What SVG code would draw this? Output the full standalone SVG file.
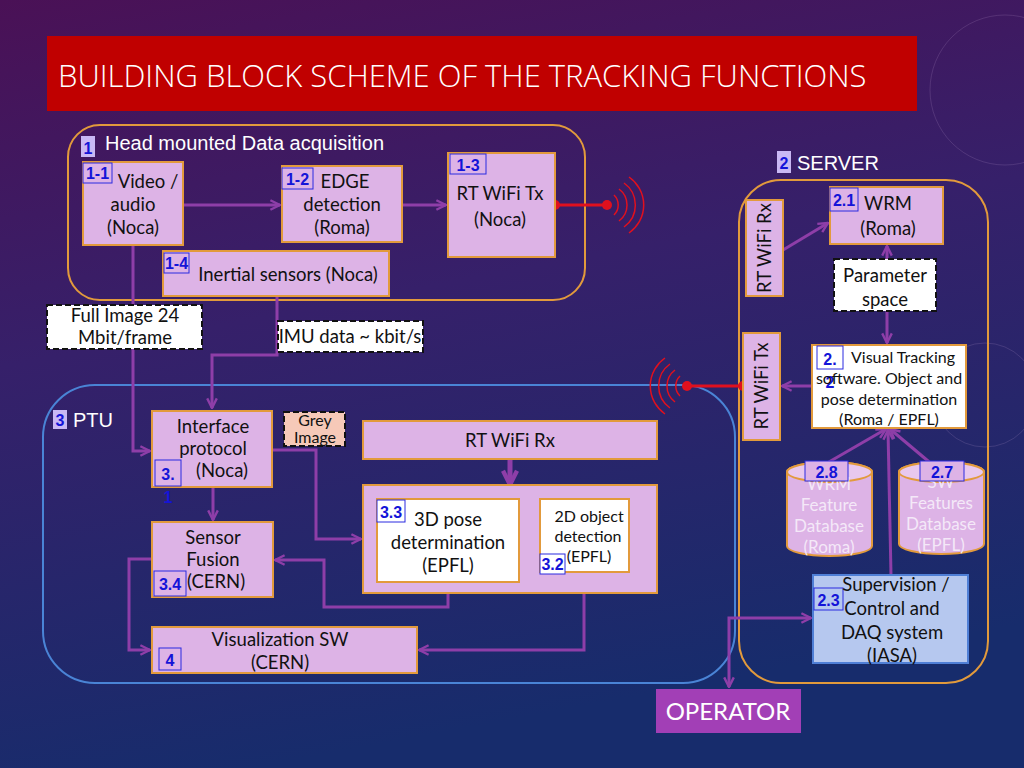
<svg xmlns="http://www.w3.org/2000/svg" width="1024" height="768" viewBox="0 0 1024 768">
<defs>
<linearGradient id="bg" x1="0" y1="0" x2="0.25" y2="1">
<stop offset="0" stop-color="#4a1156"/>
<stop offset="0.45" stop-color="#36206a"/>
<stop offset="1" stop-color="#172c6c"/>
</linearGradient>
<marker id="ah" viewBox="0 0 10 10" refX="9" refY="5" markerWidth="4" markerHeight="4" orient="auto-start-reverse" markerUnits="strokeWidth">
<path d="M1,1 L9,5 L1,9" fill="none" stroke="#8e3ea8" stroke-width="2"/>
</marker>
<marker id="ahb" viewBox="0 0 10 10" refX="8" refY="5" markerWidth="3.5" markerHeight="3.5" orient="auto-start-reverse" markerUnits="strokeWidth">
<path d="M1,1 L9,5 L1,9" fill="none" stroke="#8e3ea8" stroke-width="2.5"/>
</marker>
<style>
.node{fill:#ddb3e6;stroke:#e29a3c;stroke-width:2}
.wnode{fill:#ffffff;stroke:#e29a3c;stroke-width:2}
.t{font-family:Lato,"Open Sans",sans-serif;font-size:18.5px;fill:#111;text-anchor:middle}
.ts{font-family:Lato,"Open Sans",sans-serif;font-size:16px;fill:#111;text-anchor:middle}
.wt{font-family:Lato,"Open Sans",sans-serif;font-size:17px;fill:#f4e8f8;text-anchor:middle}
.tag{fill:#ddb3e6;stroke:#2a2ae0;stroke-width:1}
.tagw{fill:#ffffff;stroke:#2a2ae0;stroke-width:1}
.tt{font-family:"Liberation Sans",Arial,sans-serif;font-size:16px;font-weight:bold;fill:#1414d8;text-anchor:middle}
.gl{font-family:"Liberation Sans",Arial,sans-serif;font-size:20px;fill:#ffffff}
.gtag{fill:#c9b8f4}
.dash{fill:#ffffff;stroke:#111;stroke-width:2;stroke-dasharray:6,3}
.c{fill:none;stroke:#8e3ea8;stroke-width:3}
.red{stroke:#e0101e;stroke-width:3;fill:none}
.wave{stroke:#e0101e;stroke-width:1.5;fill:none}
</style>
</defs>
<rect width="1024" height="768" fill="url(#bg)"/>
<g opacity="0.18" fill="none" stroke="#c0a0d0">
<circle cx="1005" cy="90" r="75"/>
<circle cx="985" cy="395" r="52"/>
</g>

<g id="title">
<rect x="47" y="36" width="870" height="75" fill="#c00000"/>
<text x="58" y="87" font-family="'Open Sans',Lato,sans-serif" font-weight="300" font-size="31" fill="#ffffff">BUILDING BLOCK SCHEME OF THE TRACKING FUNCTIONS</text>
</g>

<g id="group1">
<rect x="68" y="125" width="517" height="175" rx="32" fill="none" stroke="#e29a3c" stroke-width="2"/>
<rect class="gtag" x="81" y="136" width="14" height="21"/>
<text x="88" y="154" class="tt" font-size="18" style="fill:#1414d8">1</text>
<text x="105" y="150" class="gl">Head mounted Data acquisition</text>
</g>

<g id="group3">
<rect x="43" y="385" width="692" height="298" rx="52" fill="none" stroke="#4a84d6" stroke-width="2"/>
<rect class="gtag" x="53" y="410" width="14" height="19"/>
<text x="60" y="426" class="tt" style="fill:#1414d8">3</text>
<text x="73" y="427" class="gl" font-size="17.5">PTU</text>
</g>

<g id="group2">
<rect x="739" y="180" width="249" height="503" rx="42" fill="none" stroke="#e29a3c" stroke-width="2"/>
<rect class="gtag" x="777" y="151" width="14" height="22"/>
<text x="784" y="169" class="tt" font-size="18" style="fill:#1414d8">2</text>
<text x="797" y="170" class="gl">SERVER</text>
</g>

<g id="connectors">
<line class="c" x1="183" y1="205" x2="280" y2="205" marker-end="url(#ah)"/>
<line class="c" x1="402" y1="205" x2="446" y2="205" marker-end="url(#ah)"/>
<polyline class="c" points="133,245 133,451 150,451" marker-end="url(#ah)"/>
<polyline class="c" points="277,296 277,355 212,355 212,408" marker-end="url(#ah)"/>
<line class="c" x1="213" y1="487" x2="213" y2="520" marker-end="url(#ah)"/>
<polyline class="c" points="272,450 316,450 316,539 361,539" marker-end="url(#ah)"/>
<polyline class="c" points="157,559 129,559 129,650 150,650" marker-end="url(#ah)"/>
<line x1="510" y1="459" x2="510" y2="483" stroke="#8e3ea8" stroke-width="5" marker-end="url(#ahb)"/>
<line class="c" x1="540" y1="541" x2="521" y2="541" marker-end="url(#ah)"/>
<polyline class="c" points="448,582 448,607 324,607 324,560 275,560" marker-end="url(#ah)"/>
<polyline class="c" points="584,572 584,650 419,650" marker-end="url(#ah)"/>
<line class="c" x1="783" y1="250" x2="828" y2="223" marker-end="url(#ah)"/>
<line class="c" x1="887" y1="246" x2="887" y2="343" marker-start="url(#ah)" marker-end="url(#ah)"/>
<line class="c" x1="812" y1="386" x2="782" y2="386" marker-end="url(#ah)"/>
<line class="c" x1="822" y1="466" x2="886" y2="429" marker-end="url(#ah)"/>
<line class="c" x1="934" y1="466" x2="890" y2="429" marker-end="url(#ah)"/>
<line class="c" x1="891" y1="575" x2="888" y2="430" marker-end="url(#ah)"/>
<polyline class="c" points="811,618 729,618 729,687" marker-start="url(#ah)" marker-end="url(#ah)"/>
<line class="red" x1="555" y1="205" x2="607" y2="205"/>
<circle cx="555" cy="205" r="5" fill="#e0101e"/>
<circle cx="607" cy="205" r="5" fill="#e0101e"/>
<path class="wave" d="M614,195 A14,14 0 0 1 614,215 M619,189 A20,20 0 0 1 619,221 M624,183 A27,27 0 0 1 624,227 M629,177 A34,34 0 0 1 629,233"/>
<line class="red" x1="743" y1="386" x2="687" y2="386"/>
<circle cx="743" cy="386" r="5" fill="#e0101e"/>
<circle cx="687" cy="386" r="5" fill="#e0101e"/>
<path class="wave" d="M680,376 A14,14 0 0 0 680,396 M675,370 A20,20 0 0 0 675,402 M670,364 A27,27 0 0 0 670,408 M665,358 A34,34 0 0 0 665,414"/>
</g>

<g id="n1-1">
<rect class="node" x="83" y="162" width="100" height="83"/>
<rect class="tag" x="83" y="163" width="29" height="20"/>
<text x="97.5" y="179" class="tt">1-1</text>
<text x="148" y="188" class="t">Video /</text>
<text x="133" y="211" class="t">audio</text>
<text x="133" y="234" class="t">(Noca)</text>
</g>

<g id="n1-2">
<rect class="node" x="282" y="166" width="120" height="76"/>
<rect class="tag" x="282" y="168" width="31" height="21"/>
<text x="297.5" y="185" class="tt">1-2</text>
<text x="345" y="188" class="t">EDGE</text>
<text x="342" y="211" class="t">detection</text>
<text x="342" y="234" class="t">(Roma)</text>
</g>

<g id="n1-3">
<rect class="node" x="448" y="153" width="107" height="104"/>
<rect class="tag" x="450" y="154" width="36" height="20"/>
<text x="468" y="171" class="tt">1-3</text>
<text x="500" y="200" class="t">RT WiFi Tx</text>
<text x="500" y="226" class="t">(Noca)</text>
</g>

<g id="n1-4">
<rect class="node" x="163" y="251" width="226" height="45"/>
<rect class="tag" x="164" y="253" width="25" height="20"/>
<text x="176.5" y="269" class="tt" font-size="14">1-4</text>
<text x="288" y="281" class="t">Inertial sensors (Noca)</text>
</g>

<g id="lbl-fullimage">
<rect class="dash" x="47" y="305" width="155" height="44"/>
<text x="125" y="322" class="t">Full Image 24</text>
<text x="125" y="344" class="t">Mbit/frame</text>
</g>

<g id="lbl-imu">
<rect class="dash" x="278" y="321" width="145" height="31"/>
<text x="350" y="343" class="t">IMU data ~ kbit/s</text>
</g>

<g id="n3-1">
<rect class="node" x="152" y="411" width="120" height="76"/>
<text x="213" y="433" class="t">Interface</text>
<text x="213" y="455" class="t">protocol</text>
<text x="222" y="477" class="t">(Noca)</text>
<rect class="tag" x="155" y="460" width="26" height="26"/>
<text x="168" y="480" class="tt" font-size="17">3.</text>
<text x="168" y="503" class="tt" font-size="15">1</text>
</g>

<g id="lbl-grey">
<rect class="dash" x="284" y="412" width="61" height="34" style="fill:#f6c9b8"/>
<text x="315" y="426" class="ts" font-size="14.5">Grey</text>
<text x="315" y="443" class="ts" font-size="14.5">Image</text>
</g>

<g id="n3-4">
<rect class="node" x="152" y="522" width="121" height="75"/>
<text x="213" y="544" class="t">Sensor</text>
<text x="213" y="566" class="t">Fusion</text>
<text x="216" y="588" class="t">(CERN)</text>
<rect class="tag" x="154" y="571" width="32" height="25"/>
<text x="170" y="590" class="tt" font-size="17">3.4</text>
</g>

<g id="n4">
<rect class="node" x="152" y="627" width="265" height="46"/>
<text x="280" y="646" class="t">Visualization SW</text>
<text x="280" y="669" class="t">(CERN)</text>
<rect class="tag" x="159" y="648" width="22" height="22"/>
<text x="170" y="666" class="tt" font-size="17">4</text>
</g>

<g id="n-rtwifirx-ptu">
<rect class="node" x="363" y="421" width="294" height="38"/>
<text x="510" y="447" class="t">RT WiFi Rx</text>
</g>

<g id="n3-x">
<rect class="node" x="363" y="485" width="294" height="108"/>
</g>

<g id="n3-3">
<rect class="wnode" x="377" y="499" width="142" height="83"/>
<rect class="tagw" x="377" y="500" width="28" height="22"/>
<text x="391" y="518" class="tt" font-size="17">3.3</text>
<text x="448" y="526" class="t">3D pose</text>
<text x="448" y="549" class="t">determination</text>
<text x="448" y="572" class="t">(EPFL)</text>
</g>

<g id="n3-2">
<rect class="wnode" x="540" y="499" width="89" height="73"/>
<text x="589" y="522" class="ts" font-size="15.5">2D object</text>
<text x="588" y="542" class="ts" font-size="15.5">detection</text>
<text x="589" y="562" class="ts" font-size="15.5">(EPFL)</text>
<rect class="tagw" x="540" y="554" width="25" height="20"/>
<text x="552.5" y="570" class="tt" font-size="15">3.2</text>
</g>

<g id="n-rtwifirx-srv">
<rect class="node" x="746" y="200" width="37" height="96"/>
<text transform="translate(771,248) rotate(-90)" class="t">RT WiFi Rx</text>
</g>

<g id="n2-1">
<rect class="node" x="830" y="187" width="113" height="57"/>
<rect class="tag" x="830" y="188" width="28" height="23"/>
<text x="844" y="206" class="tt" font-size="17">2.1</text>
<text x="888" y="210" class="t">WRM</text>
<text x="888" y="235" class="t">(Roma)</text>
</g>

<g id="lbl-param">
<rect class="dash" x="834" y="259" width="102" height="52"/>
<text x="885" y="282" class="t">Parameter</text>
<text x="885" y="306" class="t">space</text>
</g>

<g id="n2-2">
<rect class="wnode" x="812" y="345" width="154" height="83"/>
<rect class="tagw" x="817" y="346" width="26" height="23"/>
<text x="830" y="365" class="tt" font-size="17">2.</text>
<text x="830" y="388" class="tt" font-size="17">2</text>
<text x="903" y="363" class="ts">Visual Tracking</text>
<text x="889" y="384" class="ts">software. Object and</text>
<text x="889" y="405" class="ts">pose  determination</text>
<text x="889" y="425" class="ts">(Roma / EPFL)</text>
</g>

<g id="n-rtwifitx-srv">
<rect class="node" x="743" y="333" width="37" height="107"/>
<text transform="translate(768,386) rotate(-90)" class="t">RT WiFi Tx</text>
</g>

<g id="n2-8">
<path d="M787,472 A42.5,10 0 0 1 872,472 V546 A42.5,10 0 0 1 787,546 Z" class="node"/>
<ellipse cx="829.5" cy="472" rx="42.5" ry="10" fill="#e8c8ee" stroke="#e29a3c" stroke-width="2"/>
<text x="829" y="490" class="wt">WRM</text>
<text x="829" y="511" class="wt">Feature</text>
<text x="829" y="532" class="wt">Database</text>
<text x="829" y="553" class="wt">(Roma)</text>
<rect class="tag" x="805" y="461" width="43" height="20"/>
<text x="826.5" y="478" class="tt" font-size="17">2.8</text>
</g>

<g id="n2-7">
<path d="M899,472 A42.5,10 0 0 1 984,472 V544 A42.5,10 0 0 1 899,544 Z" class="node"/>
<ellipse cx="941.5" cy="472" rx="42.5" ry="10" fill="#e8c8ee" stroke="#e29a3c" stroke-width="2"/>
<text x="941" y="488" class="wt">SW</text>
<text x="941" y="509" class="wt">Features</text>
<text x="941" y="530" class="wt">Database</text>
<text x="941" y="551" class="wt">(EPFL)</text>
<rect class="tag" x="920" y="461" width="44" height="20"/>
<text x="942" y="478" class="tt" font-size="17">2.7</text>
</g>

<g id="n2-3">
<rect x="813" y="575" width="155" height="88" fill="#b6c8ef" stroke="#4f7fd6" stroke-width="2"/>
<rect x="814" y="588" width="29" height="22" fill="#b6c8ef" stroke="#2a2ae0" stroke-width="1"/>
<text x="828.5" y="606" class="tt" font-size="17">2.3</text>
<text x="896" y="591" class="t">Supervision /</text>
<text x="892" y="615" class="t">Control and</text>
<text x="892" y="639" class="t">DAQ system</text>
<text x="892" y="662" class="t">(IASA)</text>
</g>

<g id="operator">
<rect x="656" y="689" width="145" height="44" fill="#a23fb6"/>
<text x="728" y="720" font-family="Lato,'Open Sans',sans-serif" font-size="24" fill="#ffffff" text-anchor="middle">OPERATOR</text>
</g>
</svg>
